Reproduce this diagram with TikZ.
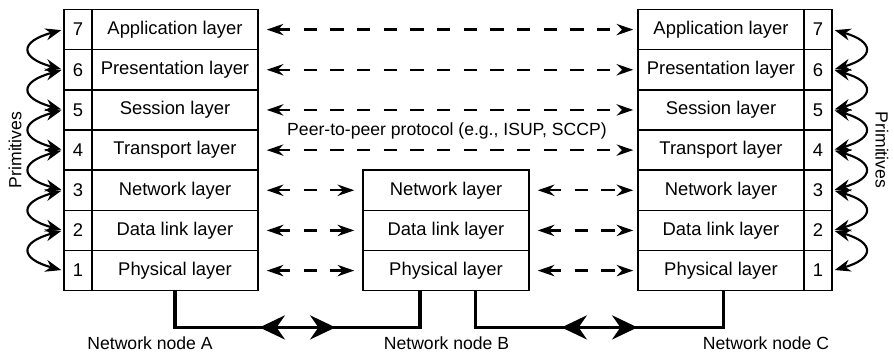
\documentclass[tikz,border=0pt]{standalone}
\usepackage{fontspec}
\setmainfont{Liberation Sans}
\usetikzlibrary{arrows.meta,calc,positioning}

\tikzset{
  laybox/.style={draw,line width=1.1pt,minimum width=124.5pt,minimum height=30.13pt,inner sep=0pt,font=\fontsize{13.8}{16}\selectfont},
  numbox/.style={laybox,minimum width=21pt},
  peer/.style={line width=1.8pt,dash pattern=on 10pt off 10pt,
    {Stealth[length=12.5pt,width=8.5pt]}-{Stealth[length=12.5pt,width=8.5pt]},
    shorten <=6pt,shorten >=6pt},
  prim/.style={line width=1.6pt,
    {Stealth[length=12pt,width=9pt]}-{Stealth[length=12pt,width=9pt]},
    shorten <=1.5pt,shorten >=1.5pt},
  link/.style={line width=2.6pt},
  linkhead/.style={link,{Stealth[length=19pt,width=18pt]}-{Stealth[length=19pt,width=18pt]}},
  nodetext/.style={font=\fontsize{13.2}{16}\selectfont}
}

\begin{document}
\begin{tikzpicture}[x=0.75pt,y=-0.75pt]
  \useasboundingbox (0,0) rectangle (894,353);

  % end nodes A and C
  \foreach \i/\txt in {7/Application layer,6/Presentation layer,5/Session layer,
      4/Transport layer,3/Network layer,2/Data link layer,1/Physical layer}{
    \node[laybox] (A\i) at (175,{9.5+(7.5-\i)*40.17}) {\txt};
    \node[numbox] (nA\i) at (78,{9.5+(7.5-\i)*40.17}) {\i};
    \node[laybox] (C\i) at (721,{9.5+(7.5-\i)*40.17}) {\txt};
    \node[numbox] (nC\i) at (818,{9.5+(7.5-\i)*40.17}) {\i};
  }
  % intermediate node B
  \foreach \i/\txt in {3/Network layer,2/Data link layer,1/Physical layer}
    \node[laybox] (B\i) at (446,{9.5+(7.5-\i)*40.17}) {\txt};

  % peer-to-peer
  \foreach \i in {7,6,5,4}
    \draw[peer,shorten >=3pt] (A\i) -- (C\i);
  \foreach \i in {3,2,1}{
    \draw[peer] (A\i) -- (B\i);
    \draw[peer,shorten >=3pt] (B\i) -- (C\i);
  }
  \node[nodetext] (proto) at (447,131) {Peer-to-peer protocol (e.g., ISUP, SCCP)};

  % primitives
  \foreach \i/\j in {7/6,6/5,5/4,4/3,3/2,2/1}{
    \draw[prim] (nA\i.west) .. controls +(-44,12) and +(-44,-12) .. (nA\j.west);
    \draw[prim] (nC\i.east) .. controls +(42,12) and +(42,-12) .. (nC\j.east);
  }
  \node[nodetext,rotate=90] (primA) at (15,150) {Primitives};
  \node[nodetext,rotate=-90] (primC) at (882,150) {Primitives};

  % physical links
  \draw[link] (A1.south) -- ++(0,36) coordinate (ab1)
    -| ([xshift=-19.5pt]B1.south) coordinate (ab2);
  \draw[link] ([xshift=22pt]B1.south) -- ++(0,36) coordinate (bc1)
    -| ([xshift=2pt]C1.south) coordinate (bc2);
  \coordinate (abm) at ($(ab1)!0.5!(ab2|-ab1)$);
  \coordinate (bcm) at ($(bc1)!0.5!(bc2|-bc1)$);
  \draw[linkhead] ($(abm)+(-38,0)$) -- ($(abm)+(38,0)$);
  \draw[linkhead] ($(bcm)+(-38,0)$) -- ($(bcm)+(38,0)$);

  \node[nodetext] (nodeA) at (150,343) {Network node A};
  \node[nodetext] (nodeB) at (446.5,343) {Network node B};
  \node[nodetext] (nodeC) at (766,343) {Network node C};
\end{tikzpicture}
\end{document}
